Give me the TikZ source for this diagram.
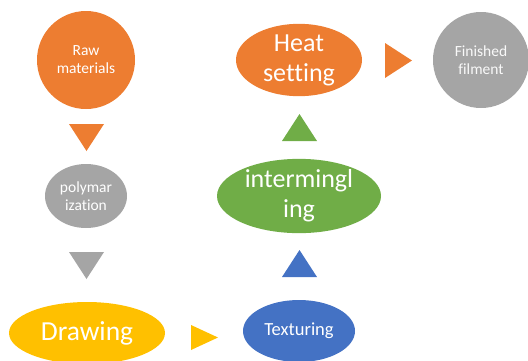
\documentclass[tikz,border=0pt]{standalone}
\usepackage{fontspec}
\setmainfont[Ligatures=NoCommon]{Carlito}
\usetikzlibrary{shapes.geometric}
\definecolor{cOrange}{HTML}{ED7D31}
\definecolor{cGray}{HTML}{A5A5A5}
\definecolor{cYellow}{HTML}{FFC000}
\definecolor{cBlue}{HTML}{4472C4}
\definecolor{cGreen}{HTML}{70AD47}
\tikzset{
  blob/.style={ellipse, inner sep=0pt, text=white, align=center},
  small/.style={font=\fontsize{15.5}{18}\selectfont},
  mid/.style={font=\fontsize{18.5}{22}\selectfont},
  big/.style={font=\fontsize{26}{30}\selectfont},
  bigger/.style={font=\fontsize{27.5}{32}\selectfont}
}
\begin{document}
\begin{tikzpicture}[x=1pt,y=-1pt]
\useasboundingbox (0,0) rectangle (528,360);
\clip (0,0) rectangle (528,360);
\node[blob, small, fill=cOrange, minimum width=98pt, minimum height=98pt] (raw) at (86,60) {Raw\\materials};
\node[blob, small, fill=cGray, minimum width=82pt, minimum height=64pt] (poly) at (86,196) {polymar\\ization};
\node[blob, bigger, fill=cYellow, minimum width=156pt, minimum height=62pt] (draw) at (87,333) {Drawing};
\node[blob, mid, fill=cBlue, minimum width=112pt, minimum height=62pt] (tex) at (299,331) {Texturing};
\node[blob, big, fill=cGreen, minimum width=164pt, minimum height=64pt] (inter) at (299,196) {intermingl\\ing};
\node[blob, big, fill=cOrange, minimum width=126pt, minimum height=65pt] (heat) at (299,60) {Heat\\setting};
\node[blob, small, fill=cGray, text=white!95!gray, minimum width=96pt, minimum height=96pt] (fin) at (481,60) {Finished\\filment};
\fill[cOrange] (69,124) -- (104,124) -- (86.5,151) -- cycle;
\fill[cGray] (69,252) -- (104,252) -- (86.5,279) -- cycle;
\fill[cYellow] (191,325) -- (191,350) -- (218,337.5) -- cycle;
\fill[cBlue] (282,277) -- (317,277) -- (299.5,250) -- cycle;
\fill[cGreen] (282,141) -- (317,141) -- (299.5,114) -- cycle;
\fill[cOrange] (385,43) -- (385,78) -- (412,60.5) -- cycle;
\end{tikzpicture}
\end{document}
